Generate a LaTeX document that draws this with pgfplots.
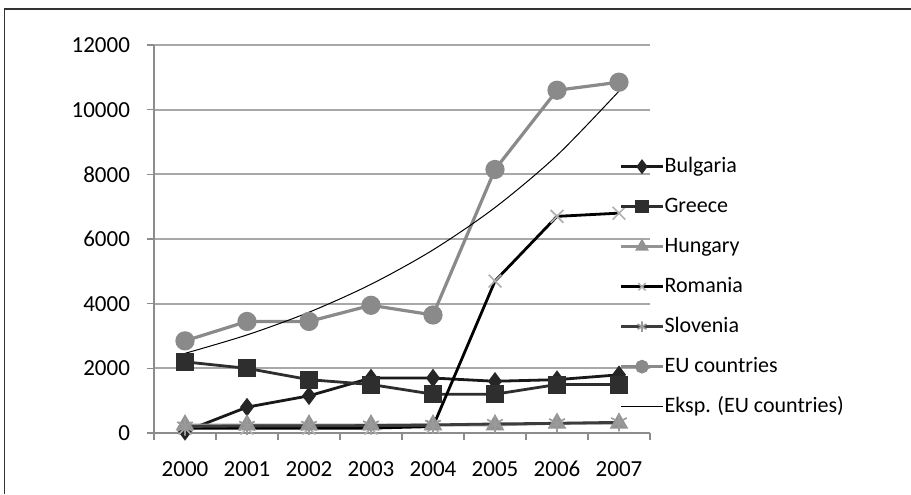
\documentclass[border=0pt]{standalone}
\usepackage{pgfplots}
\pgfplotsset{compat=1.18}
\usepackage{fontspec}
\setmainfont{Carlito}

\definecolor{gridgray}{HTML}{A8A8A8}
\definecolor{tickgray}{HTML}{8C8C8C}
\definecolor{eucol}{HTML}{8A8A8A}
\definecolor{grcol}{HTML}{2E2E2E}
\definecolor{hucol}{HTML}{939393}
\definecolor{slcol}{HTML}{3C3C3C}
\definecolor{slmark}{HTML}{9A9A9A}
\definecolor{romark}{HTML}{B0B0B0}

\begin{document}
\begin{tikzpicture}
% fixed page: 911 x 494 units of 0.5pt
\useasboundingbox (0,0) rectangle (455.5pt,247pt);
\fill[white] (0,0) rectangle (455.5pt,247pt);
\draw[line width=0.9pt, black!80] (2.25pt,0) -- (2.25pt,242.5pt) -- (455.5pt,242.5pt);

\begin{axis}[
  at={(77pt,30.5pt)}, anchor=south west,
  scale only axis,
  width=248pt, height=194pt,
  xmin=-0.5, xmax=7.5,
  ymin=0, ymax=12000,
  % category boundaries carry the tick marks, category centres the labels
  xtick={-0.5,0.5,...,7.5},
  xticklabels={},
  extra x ticks={0,...,7},
  extra x tick labels={2000,2001,2002,2003,2004,2005,2006,2007},
  extra x tick style={major tick length=0pt, grid=none},
  ytick={0,2000,...,12000},
  scaled y ticks=false,
  ymajorgrids=true, xmajorgrids=false,
  grid style={draw=gridgray, line width=0.9pt},
  axis x line*=bottom,
  axis y line*=left,
  axis line style={draw=tickgray, line width=0.6pt},
  tick align=outside,
  tick style={draw=tickgray, line width=0.6pt},
  major tick length=3.5pt,
  tick label style={font=\fontsize{11.5}{13}\selectfont, text=black},
  xticklabel style={yshift=-10pt, text height=8pt, text depth=0pt},
  yticklabel style={xshift=-5pt},
  /pgf/number format/assume math mode=true,
  /pgf/number format/1000 sep={},
  legend cell align=left,
  legend style={
    at={(0.9375,0.712)}, anchor=north west,
    draw=none, fill=none, inner sep=0pt,
    font=\fontsize{11}{13}\selectfont,
    row sep=10.5pt,
    nodes={inner sep=0pt, text height=7.5pt, text depth=2pt},
    /tikz/every even column/.style={column sep=2pt},
  },
  legend image code/.code={
    \draw[mark repeat=2, mark phase=2, mark size=2.6pt]
      plot coordinates {(0pt,0pt) (10.5pt,0pt) (21pt,0pt)};
  },
]

% Bulgaria
\addplot[black!90, line width=1.4pt, mark=diamond*, mark size=3.5pt,
  mark options={solid, fill=black!85, draw=black!85}]
  coordinates {(0,50) (1,800) (2,1150) (3,1700) (4,1700) (5,1600) (6,1650) (7,1800)};
\addlegendentry{Bulgaria}

% Greece
\addplot[grcol, line width=1.4pt, mark=square*, mark size=3.8pt,
  mark options={solid, fill=grcol, draw=grcol}]
  coordinates {(0,2200) (1,2000) (2,1650) (3,1500) (4,1200) (5,1200) (6,1500) (7,1500)};
\addlegendentry{Greece}

% Romania (drawn below Hungary so the grey band stays on top)
\addplot[black, line width=1.4pt, mark=x, mark size=4.5pt,
  mark options={solid, draw=romark, line width=0.8pt}, forget plot]
  coordinates {(0,150) (1,150) (2,150) (3,150) (4,200) (5,4700) (6,6700) (7,6800)};

% Hungary
\addplot[hucol, line width=1.4pt, mark=triangle*, mark size=4pt,
  mark options={solid, fill=hucol, draw=hucol}]
  coordinates {(0,250) (1,250) (2,250) (3,250) (4,250) (5,250) (6,300) (7,300)};
\addlegendentry{Hungary}

% Romania legend entry
\addlegendimage{black, line width=1.4pt, mark=x, mark size=4.5pt,
  mark options={solid, draw=romark, line width=0.8pt}}
\addlegendentry{Romania}

% Slovenia
\addplot[slcol, line width=1.4pt, mark=asterisk, mark size=4.5pt,
  mark options={solid, draw=slmark, line width=0.8pt}]
  coordinates {(0,200) (1,220) (2,220) (3,230) (4,250) (5,280) (6,300) (7,330)};
\addlegendentry{Slovenia}

% EU countries
\addplot[eucol, line width=1.6pt, mark=*, mark size=4pt,
  mark options={solid, fill=eucol, draw=eucol}]
  coordinates {(0,2850) (1,3450) (2,3450) (3,3950) (4,3650) (5,8150) (6,10600) (7,10850)};
\addlegendentry{EU countries}

% exponential trend of the EU series
\addplot[black, line width=0.5pt, smooth, mark=none]
  coordinates {(0,2463) (1,3033) (2,3735) (3,4599) (4,5663) (5,6973) (6,8587) (7,10574)};
\addlegendentry{Eksp. (EU countries)}

\end{axis}
\end{tikzpicture}
\end{document}
